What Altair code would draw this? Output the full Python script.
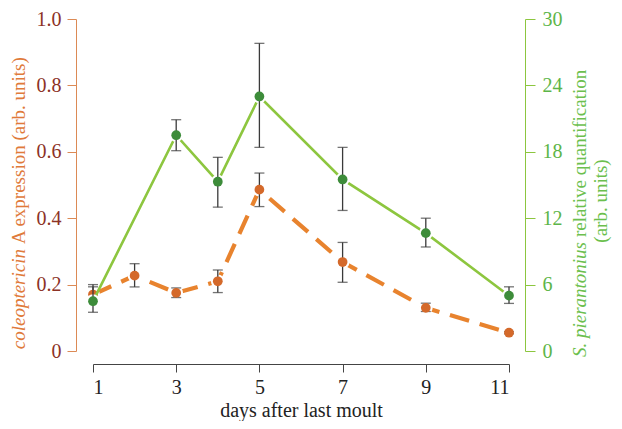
import altair as alt
import pandas as pd

# coleoptericin A expression (left axis)
days_c = [1, 2, 3, 4, 5, 7, 9, 11]
coleo = [0.17, 0.227, 0.175, 0.21, 0.486, 0.268, 0.13, 0.055]
coleo_lo = [0.14, 0.193, 0.161, 0.176, 0.435, 0.207, 0.119, 0.052]
coleo_hi = [0.20, 0.263, 0.190, 0.244, 0.536, 0.327, 0.144, 0.058]

# S. pierantonius relative quantification (right axis)
days_s = [1, 3, 4, 5, 7, 9, 11]
sym = [4.5, 19.5, 15.3, 23.0, 15.5, 10.65, 5.0]
sym_lo = [3.5, 18.1, 13.0, 18.4, 12.7, 9.4, 4.3]
sym_hi = [5.8, 20.9, 17.5, 27.8, 18.4, 12.0, 5.8]

x_ticks = [1, 3, 5, 7, 9, 11]
left_ticks = [0, 0.2, 0.4, 0.6, 0.8, 1.0]
right_ticks = [0, 6, 12, 18, 24, 30]

FONT = "Liberation Serif"
ORANGE_LINE = "#e8832e"
ORANGE_PT = "#d4692a"
GREEN_LINE = "#8dc63f"
GREEN_PT = "#3d8c3a"
ERR = "#3a3a3a"

dc = pd.DataFrame({"day": days_c, "v": coleo, "lo": coleo_lo, "hi": coleo_hi})
ds = pd.DataFrame({"day": days_s, "v": sym, "lo": sym_lo, "hi": sym_hi})

xenc = alt.X("day:Q", scale=alt.Scale(domain=[1, 11], nice=False),
             axis=alt.Axis(values=x_ticks, offset=13, tickSize=8, labelPadding=5,
                           title="days after last moult", titleFont=FONT, titleFontSize=20,
                           titleFontWeight="normal", titleColor="#222",
                           titleBaseline="alphabetic", titleY=52,
                           labelFont=FONT, labelFontSize=20, labelColor="#222",
                           domainColor="#444", tickColor="#444", grid=False))

yl_scale = alt.Scale(domain=[0, 1], nice=False)
yl_axis = alt.Axis(values=left_ticks, offset=17, tickSize=9, labelPadding=6, title=None,
                   labelExpr="datum.value == 0 ? '0' : format(datum.value, '.1f')",
                   labelFont=FONT, labelFontSize=20, labelColor="#8c3226",
                   domainColor="#dc8a55", tickColor="#dc8a55", grid=False)
yr_scale = alt.Scale(domain=[0, 30], nice=False)
yr_axis = alt.Axis(values=right_ticks, orient="right", offset=16, tickSize=10, labelPadding=7,
                   title=None, labelFont=FONT, labelFontSize=20, labelColor="#5db548",
                   domainColor="#8cc63f", tickColor="#8cc63f", grid=False)

base_c = alt.Chart(dc)
orange = alt.layer(
    base_c.mark_line(color=ORANGE_LINE, strokeWidth=4.2, strokeDash=[20, 11]).encode(
        x=xenc, y=alt.Y("v:Q", scale=yl_scale, axis=yl_axis)),
    base_c.mark_point(filled=True, color="white", size=190, opacity=1).encode(x="day:Q", y="v:Q"),
    base_c.mark_rule(color=ERR, strokeWidth=1.3).encode(x="day:Q", y="lo:Q", y2="hi:Q"),
    base_c.mark_tick(orient="horizontal", color=ERR, size=10, thickness=1.3).encode(x="day:Q", y="lo:Q"),
    base_c.mark_tick(orient="horizontal", color=ERR, size=10, thickness=1.3).encode(x="day:Q", y="hi:Q"),
    base_c.mark_point(filled=True, color=ORANGE_PT, size=95, opacity=1).encode(x="day:Q", y="v:Q"),
)

base_s = alt.Chart(ds)
green = alt.layer(
    base_s.mark_line(color=GREEN_LINE, strokeWidth=2.6).encode(
        x="day:Q", y=alt.Y("v:Q", scale=yr_scale, axis=yr_axis)),
    base_s.mark_point(filled=True, color="white", size=190, opacity=1).encode(x="day:Q", y="v:Q"),
    base_s.mark_rule(color=ERR, strokeWidth=1.3).encode(x="day:Q", y="lo:Q", y2="hi:Q"),
    base_s.mark_tick(orient="horizontal", color=ERR, size=10, thickness=1.3).encode(x="day:Q", y="lo:Q"),
    base_s.mark_tick(orient="horizontal", color=ERR, size=10, thickness=1.3).encode(x="day:Q", y="hi:Q"),
    base_s.mark_point(filled=True, color=GREEN_PT, size=95, opacity=1).encode(x="day:Q", y="v:Q"),
)

one = pd.DataFrame({"a": [0]})
def txt(s, x, y, color, italic=False, align="center"):
    return alt.Chart(one).mark_text(
        text=s, font=FONT, fontSize=19, angle=270, align=align, baseline="middle",
        fontStyle="italic" if italic else "normal", color=color,
    ).encode(x=alt.value(x), y=alt.value(y))

LT = "#e07a3a"
RT = "#6cbf4e"
titles = [
    txt("coleoptericin", -74, 230, LT, italic=True, align="right"),
    txt("A expression (arb. units)", -74, 225, LT, align="left"),
    txt("S. pierantonius", 487, 223, RT, italic=True, align="right"),
    txt("relative quantification", 487, 218, RT, align="left"),
    txt("(arb. units)", 508, 182, RT),
]

chart = alt.layer(orange, green, *titles).resolve_scale(y="independent").properties(
    width=416, height=332,
    autosize=alt.AutoSizeParams(type="none"),
    padding={"left": 85, "top": 11, "right": 105, "bottom": 70},
).configure_view(stroke=None).configure_axis(
    labelFont=FONT, titleFont=FONT
).configure_text(font=FONT)

chart.save("out.html", embed_options={"renderer": "svg", "actions": False})
